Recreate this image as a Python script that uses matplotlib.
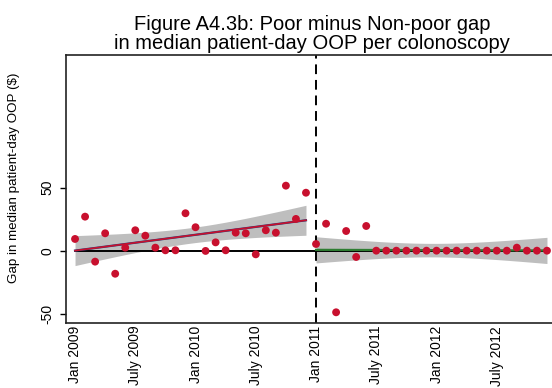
import numpy as np
import matplotlib
matplotlib.use("Agg")
import matplotlib.pyplot as plt

plt.rcParams['font.family'] = ['Liberation Sans', 'DejaVu Sans']

# Monthly gap (poor minus non-poor) in median patient-day OOP, Jan 2009 - Dec 2012
months = np.arange(48)
gap = [
    9.3, 27.0, -8.7, 13.8, -18.3, 2.4, 16.2, 11.9, 2.4, 0.3, 0.3, 29.7,
    18.6, -0.2, 6.6, 0.3, 14.3, 13.8, -2.9, 16.2, 14.3, 51.6, 25.2, 46.0,
    5.3, 21.4, -48.9, 15.6, -5.0, 19.6, 0.0, 0.0, 0.0, 0.0, 0.0, 0.0,
    0.0, 0.0, 0.0, 0.0, 0.0, 0.0, 0.0, 0.0, 2.4, 0.0, 0.0, 0.0,
]
tick_pos = [0, 6, 12, 18, 24, 30, 36, 42]
tick_labels = ["Jan 2009", "July 2009", "Jan 2010", "July 2010",
               "Jan 2011", "July 2011", "Jan 2012", "July 2012"]
policy_month = 24

gap = np.array(gap)

W, H = 552, 388
fig = plt.figure(figsize=(W / 100, H / 100), dpi=100)
ax = fig.add_axes([66 / W, (H - 323) / H, (557 - 66) / W, (323 - 55) / H])

T_CRIT = 2.0739  # t(0.975, df=22)


def fit_with_ci(x, y):
    b, a = np.polyfit(x, y, 1)
    yhat = a + b * x
    n = len(x)
    s = np.sqrt(np.sum((y - yhat) ** 2) / (n - 2))
    sxx = np.sum((x - x.mean()) ** 2)
    half = T_CRIT * s * np.sqrt(1 / n + (x - x.mean()) ** 2 / sxx)
    return yhat, yhat - half, yhat + half


band_col = '#BEBEBE'
dot_col = '#C8102E'

segments = [
    (months < policy_month, '#1F3F7A', '#C8102E'),
    (months >= policy_month, '#2E7D32', None),
]
for mask, under_col, over_col in segments:
    x = months[mask].astype(float)
    y = gap[mask]
    yhat, lo, hi = fit_with_ci(x, y)
    ax.fill_between(x, lo, hi, color=band_col, lw=0, zorder=1)
    ax.plot(x, yhat, color=under_col, lw=1.6, zorder=3)
    if over_col:
        ax.plot(x, yhat, color=over_col, lw=1.2, zorder=3.1)

ax.plot([months[0], months[-1]], [0, 0], color='black', lw=1.4, zorder=2)
ax.axvline(policy_month, color='black', lw=1.4, dashes=(5, 3), zorder=2)
ax.scatter(months, gap, s=32, color=dot_col, edgecolors='none', zorder=4)

ax.set_xlim(-0.9, 48.0)
ax.set_ylim(-57.4, 155.3)
ax.set_yticks([-50, 0, 50])
ax.set_yticklabels(["-50", "0", "50"], rotation=90, va='center')
ax.set_xticks(tick_pos)
ax.set_xticklabels(tick_labels, rotation=90, ha='center', va='top')
ax.tick_params(axis='x', length=0, pad=2, labelsize=10, colors='black')
ax.tick_params(axis='y', length=4.3, width=1, pad=4, labelsize=10, colors='black')
for side in ['left', 'bottom', 'top', 'right']:
    ax.spines[side].set_linewidth(1.2)
    ax.spines[side].set_color('#222222')

ax.set_ylabel("Gap in median patient-day OOP ($)", fontsize=9.6)
ax.yaxis.set_label_coords((20 - 66) / (557 - 66), (323 - 177.5) / (323 - 55))

fig.text(312 / W, 1 - 15 / H,
         "Figure A4.3b: Poor minus Non-poor gap\nin median patient-day OOP per colonoscopy",
         ha='center', va='top', fontsize=14.5, linespacing=1.02)

fig.savefig("out.png", dpi=100)
